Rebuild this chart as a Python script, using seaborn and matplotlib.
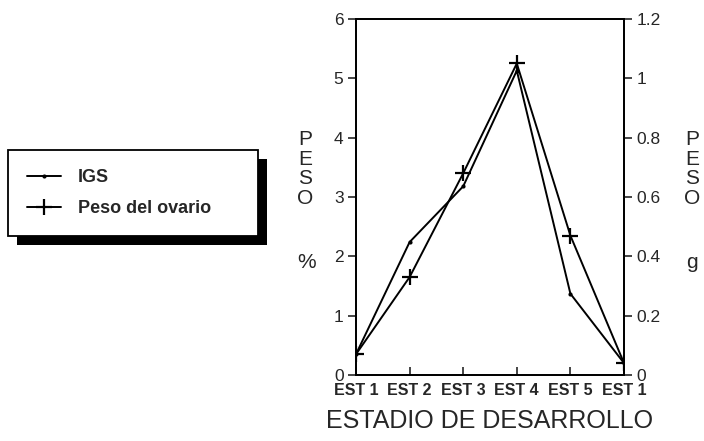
import matplotlib
matplotlib.use('Agg')
import matplotlib.pyplot as plt
import seaborn as sns
import pandas as pd
from matplotlib.patches import Rectangle

# datos
estadios = ['EST 1', 'EST 2', 'EST 3', 'EST 4', 'EST 5', 'EST 1']
igs = [0.35, 2.24, 3.18, 5.13, 1.37, 0.20]          # IGS en %
peso_ovario = [0.07, 0.33, 0.68, 1.05, 0.47, 0.04]  # peso del ovario en g

sns.set_style('ticks')
plt.rcParams['font.family'] = ['Liberation Sans', 'DejaVu Sans']

dados = pd.DataFrame({'pos': range(len(estadios)), 'igs': igs, 'peso': peso_ovario})

fig = plt.figure(figsize=(7.04, 4.41), dpi=100)
ax = fig.add_axes([356 / 704, 1 - 375 / 441, 268 / 704, 356 / 441])
ax2 = ax.twinx()

sns.lineplot(data=dados, x='pos', y='igs', ax=ax, color='black', lw=1.4,
             marker='o', markersize=3, markeredgewidth=0, markerfacecolor='black',
             label='IGS', legend=False)
sns.lineplot(data=dados, x='pos', y='peso', ax=ax2, color='black', lw=1.4,
             marker='+', markersize=12, markeredgewidth=1.6, markeredgecolor='black',
             label='Peso del ovario', legend=False)

ax.set_xlim(0, len(estadios) - 1)
ax.set_ylim(0, 6)
ax2.set_ylim(0, 1.2)
ax.set_xticks(range(len(estadios)))
ax.set_xticklabels(estadios, fontsize=11.5, fontweight='bold')
ax.set_yticks(range(7))
ax.set_yticklabels([str(v) for v in range(7)], fontsize=12.5)
ax2.set_yticks([0, 0.2, 0.4, 0.6, 0.8, 1.0, 1.2])
ax2.set_yticklabels(['0', '0.2', '0.4', '0.6', '0.8', '1', '1.2'], fontsize=12.5)

ax.tick_params(axis='x', direction='in', length=6, width=1.2, pad=6)
ax.tick_params(axis='y', direction='out', length=6, width=1.2, pad=3)
ax2.tick_params(axis='y', direction='out', length=6, width=1.2, pad=3)
for a in (ax, ax2):
    for s in a.spines.values():
        s.set_visible(True)
        s.set_linewidth(1.3)
        s.set_color('black')

ax.set_xlabel('ESTADIO DE DESARROLLO', fontsize=18, labelpad=8)
ax.set_ylabel('')
ax2.set_ylabel('')

# etiquetas verticales
fig.text(305 / 704, 1 - 130 / 441, 'P\nE\nS\nO', fontsize=15, ha='center', va='top', linespacing=1.05)
fig.text(307 / 704, 1 - 262 / 441, '%', fontsize=15, ha='center', va='center')
fig.text(692 / 704, 1 - 130 / 441, 'P\nE\nS\nO', fontsize=15, ha='center', va='top', linespacing=1.05)
fig.text(692 / 704, 1 - 262 / 441, 'g', fontsize=15, ha='center', va='center')

h1, l1 = ax.get_legend_handles_labels()
h2, l2 = ax2.get_legend_handles_labels()
leg = fig.legend(h1 + h2, l1 + l2, loc='upper left',
                 bbox_to_anchor=(8 / 704, 1 - 150 / 441, 250 / 704, 0), mode='expand',
                 prop={'weight': 'bold', 'size': 13}, frameon=True, fancybox=False,
                 edgecolor='black', framealpha=1, borderpad=1.05, labelspacing=0.8,
                 handlelength=1.9, handletextpad=0.9, borderaxespad=0)
leg.get_frame().set_linewidth(1.3)

fig.canvas.draw()
bb = leg.get_window_extent().transformed(fig.transFigure.inverted())
fig.patches.append(Rectangle((bb.x0 + 9 / 704, bb.y0 - 9 / 441), bb.width, bb.height,
                             transform=fig.transFigure, facecolor='black', edgecolor='none',
                             zorder=1, figure=fig))

fig.savefig('out.png', dpi=100)
